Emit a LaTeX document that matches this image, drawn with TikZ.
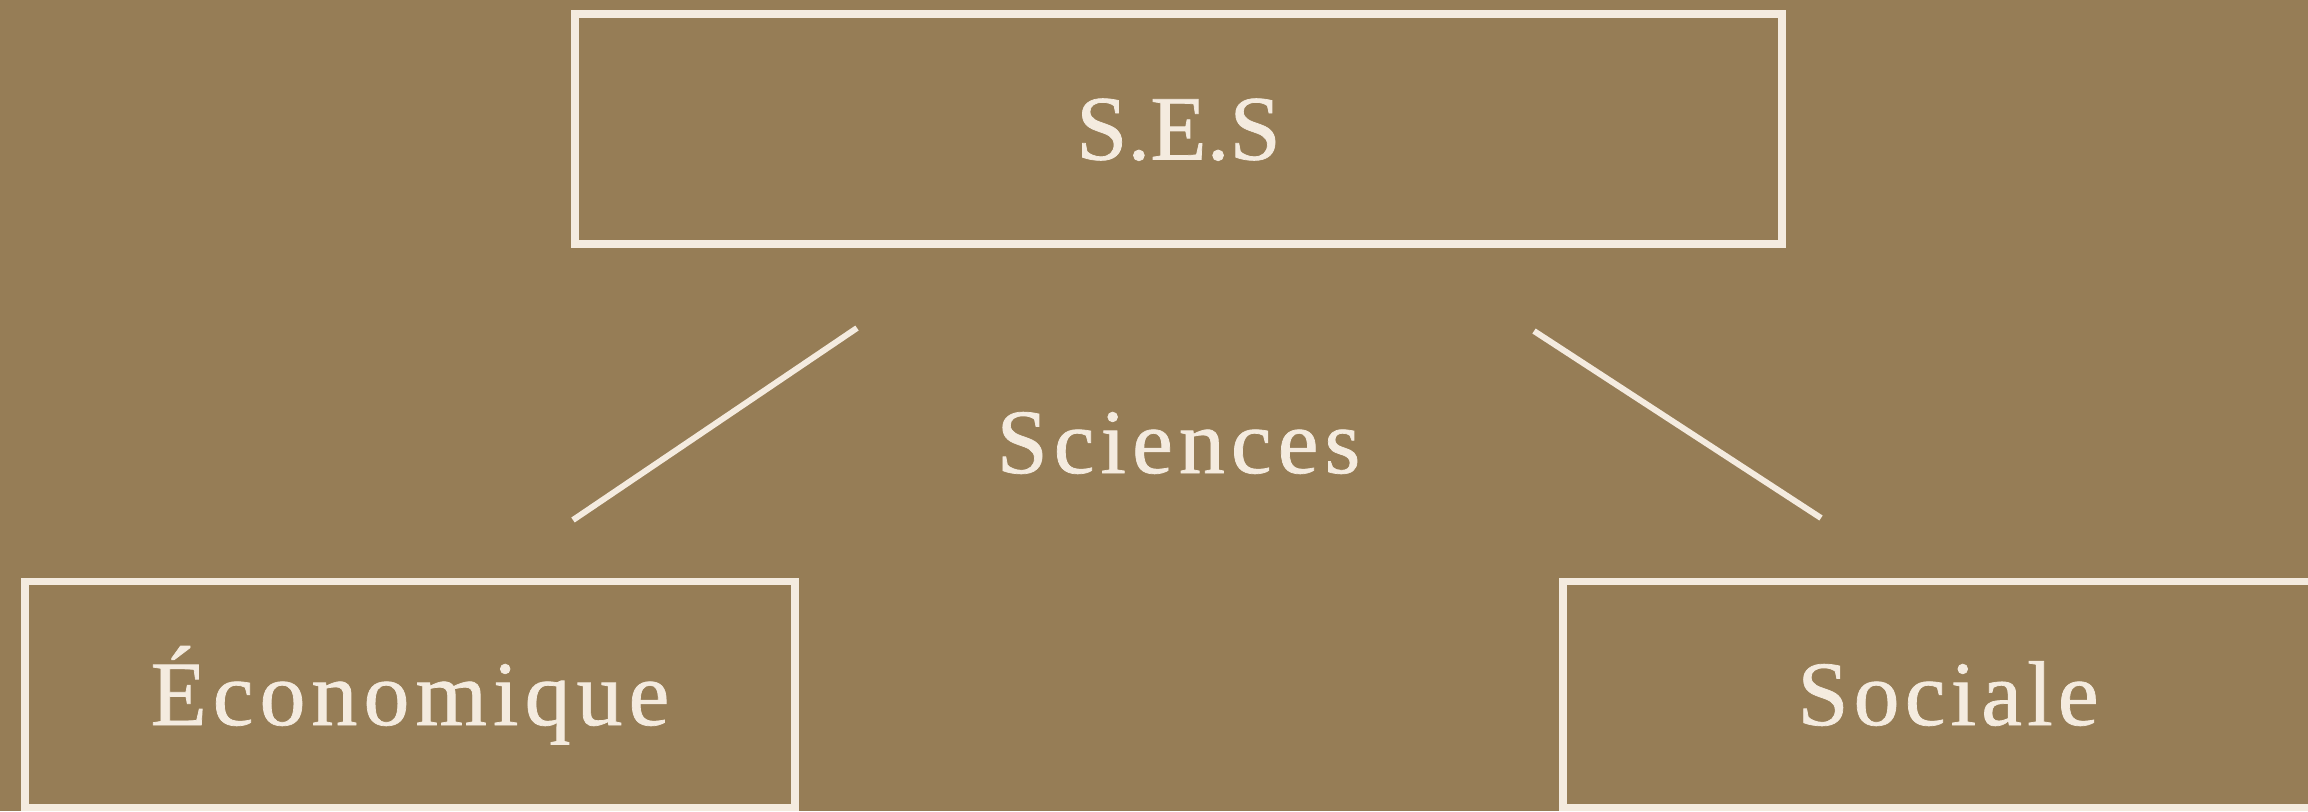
\documentclass[tikz,border=0pt]{standalone}
\usepackage{fontspec}
\newfontfamily\sesfont[LetterSpace=6.5, FakeBold=0.8]{Liberation Serif}
\usetikzlibrary{calc}
\definecolor{bronze}{HTML}{967D56}
\definecolor{cream}{HTML}{F4EBDF}
\tikzstyle{line} = [draw=cream, line width=3pt]
\tikzstyle{block} = [draw=cream, line width=3.75pt, rectangle, text=cream, inner sep=0pt, font=\sesfont\fontsize{46}{50}\selectfont, text height=30.5pt, text depth=0pt]
\tikzstyle{heading} = [text=cream, inner sep=0pt, font=\sesfont\fontsize{46}{50}\selectfont, text height=30.5pt, text depth=0pt]

\begin{document}
\begin{tikzpicture}[x=0.5pt, y=-0.5pt]
        \fill[bronze] (0,0) rectangle (2308,811);
        \useasboundingbox (0,0) rectangle (2308,811);
        \clip (0,0) rectangle (2308,811);
        \node[block, minimum width=603.5pt, minimum height=115pt] (ses) at (1178.5,129) {\addfontfeature{LetterSpace=0}S.E.S};
        \node[heading, below of=ses, node distance=156.75pt] (sciences) {Sciences};
        \node[block, minimum width=385pt, minimum height=113pt] (eco) at (410,694.5) {Économique};
        \node[block, right of=eco, node distance=769pt, minimum width=385pt, minimum height=113pt] (soc) {\addfontfeature{LetterSpace=5.5}Sociale};
        \coordinate (ecoTop) at (857,328);
        \coordinate (ecoEnd) at (573,520);
        \coordinate (socTop) at (1534,331);
        \coordinate (socEnd) at (1821,518);
        \path[line] (ecoTop) -- (ecoEnd);
        \path[line] (socTop) -- (socEnd);
    \end{tikzpicture}
\end{document}
